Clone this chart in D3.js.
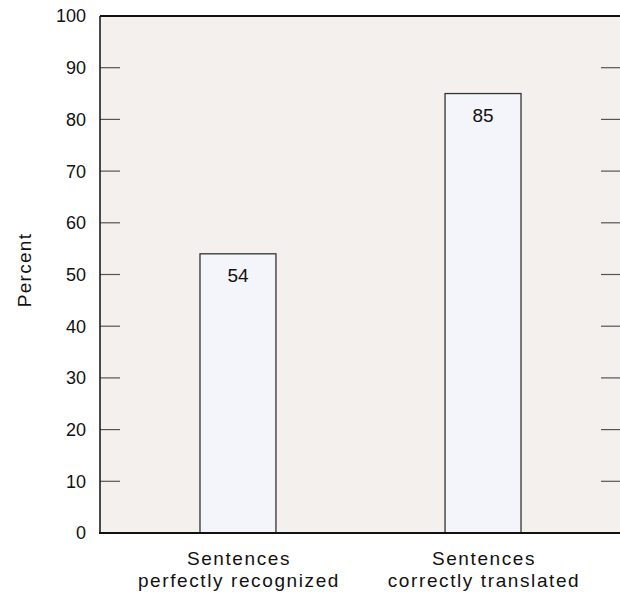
<!DOCTYPE html>
<html>
<head>
<meta charset="utf-8">
<script src="https://cdn.jsdelivr.net/npm/d3@7"></script>
<style>
  body { margin: 0; background: #fff; }
  text { font-family: "Liberation Sans", Arial, sans-serif; fill: #111; }
</style>
</head>
<body>
<div id="chart"></div>
<script>
// data
var categories = ["Sentences\nperfectly recognized", "Sentences\ncorrectly translated"];
var values = [54, 85];
var yTicks = [0, 10, 20, 30, 40, 50, 60, 70, 80, 90, 100];
var yLabel = "Percent";

var width = 620, height = 598;
var pLeft = 100, pRight = 621, pTop = 16, pBottom = 533;

var svg = d3.select("#chart").append("svg")
    .attr("width", width)
    .attr("height", height);

var xScale = d3.scaleBand().domain(categories).range([pLeft, pRight])
    .paddingInner(0.69).paddingOuter(0.408);
var yScale = d3.scaleLinear().domain([0, 100]).range([pBottom, pTop]);

// plot background
svg.append("rect")
    .attr("x", pLeft).attr("y", pTop)
    .attr("width", pRight - pLeft).attr("height", pBottom - pTop)
    .style("fill", "#f4f0ed");

// inner ticks left and right
svg.selectAll(".tickL").data(yTicks.slice(1, -1)).enter().append("line")
    .attr("x1", pLeft).attr("x2", pLeft + 20)
    .attr("y1", d => yScale(d)).attr("y2", d => yScale(d))
    .style("stroke", "#555").style("stroke-width", 1.2);
svg.selectAll(".tickR").data(yTicks.slice(1, -1)).enter().append("line")
    .attr("x1", pRight - 20).attr("x2", pRight)
    .attr("y1", d => yScale(d)).attr("y2", d => yScale(d))
    .style("stroke", "#555").style("stroke-width", 1.2);

// tick labels
svg.selectAll(".ylab").data(yTicks).enter().append("text")
    .attr("x", 86)
    .attr("y", d => yScale(d))
    .attr("dy", "0.36em")
    .attr("text-anchor", "end")
    .style("font-size", "18px")
    .text(d => d);

// bars
svg.selectAll(".bar").data(values).enter().append("rect")
    .attr("x", (d, i) => xScale(categories[i]))
    .attr("y", d => yScale(d))
    .attr("width", xScale.bandwidth())
    .attr("height", d => pBottom - yScale(d))
    .style("fill", "#f4f5fa")
    .style("stroke", "#333")
    .style("stroke-width", 1.3);

// value labels
svg.selectAll(".val").data(values).enter().append("text")
    .attr("x", (d, i) => xScale(categories[i]) + xScale.bandwidth() / 2)
    .attr("y", d => yScale(d) + 28.5)
    .attr("text-anchor", "middle")
    .style("font-size", "19px")
    .text(d => d);

// frame: left, top, bottom
svg.append("line").attr("x1", pLeft).attr("x2", pLeft).attr("y1", pTop).attr("y2", pBottom)
    .style("stroke", "#111").style("stroke-width", 1.5);
svg.append("line").attr("x1", pLeft).attr("x2", pRight).attr("y1", pTop).attr("y2", pTop)
    .style("stroke", "#111").style("stroke-width", 2);
svg.append("line").attr("x1", pLeft - 1).attr("x2", pRight).attr("y1", pBottom).attr("y2", pBottom)
    .style("stroke", "#111").style("stroke-width", 2);

// category labels
categories.forEach(function(c, i){
    var t = svg.append("text")
        .attr("text-anchor", "middle")
        .style("font-size", "19px")
        .style("letter-spacing", "1.6px");
    c.split("\n").forEach(function(line, j){
        t.append("tspan")
            .attr("x", xScale(c) + xScale.bandwidth() / 2 + 1)
            .attr("y", 565 + j * 22)
            .text(line);
    });
});

// y label
svg.append("text")
    .attr("transform", "translate(31,270) rotate(-90)")
    .attr("text-anchor", "middle")
    .style("font-size", "19px")
    .style("letter-spacing", "1.3px")
    .text(yLabel);
</script>
</body>
</html>
